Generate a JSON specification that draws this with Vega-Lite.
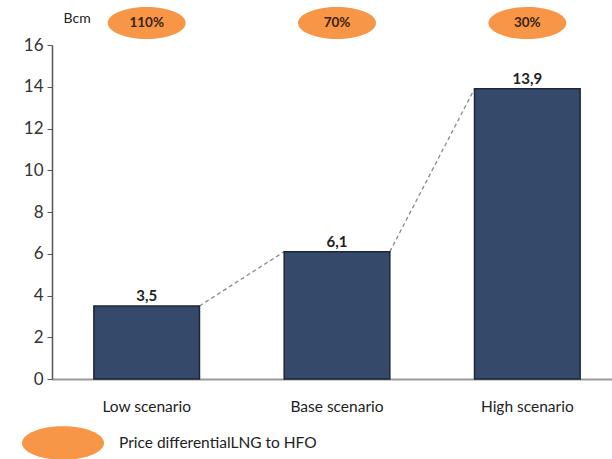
{
  "$schema": "https://vega.github.io/schema/vega-lite/v6.json",
  "autosize": {"type": "none"},
  "padding": {"left": 52, "top": 45, "right": 0, "bottom": 80},
  "width": 570,
  "height": 334,
  "config": {
    "view": {"stroke": null},
    "font": "Lato",
    "locale": {
      "number": {"decimal": ",", "thousands": ".", "grouping": [3], "currency": ["", " €"]}
    }
  },
  "data": {
    "values": [
      {"scenario": "Low scenario", "bcm": 3.5, "diff": 1.1},
      {"scenario": "Base scenario", "bcm": 6.1, "diff": 0.7},
      {"scenario": "High scenario", "bcm": 13.9, "diff": 0.3}
    ]
  },
  "encoding": {
    "x": {
      "field": "scenario",
      "type": "nominal",
      "sort": null,
      "scale": {"paddingInner": 0.445, "paddingOuter": 0.22},
      "axis": {
        "title": null,
        "labelAngle": 0,
        "labelFontSize": 15.5,
        "labelColor": "#222",
        "labelPadding": 20,
        "ticks": false,
        "domainColor": "#9a9a9a",
        "domainWidth": 2
      }
    }
  },
  "layer": [
    {
      "transform": [
        {"window": [
          {"op": "lead", "field": "scenario", "as": "next"},
          {"op": "lead", "field": "bcm", "as": "nextBcm"}
        ]},
        {"filter": "datum.next != null"}
      ],
      "mark": {"type": "rule", "strokeDash": [4, 3], "color": "#8a8a8a", "strokeWidth": 1.3},
      "encoding": {
        "x": {"field": "scenario", "type": "nominal", "sort": null, "bandPosition": 1},
        "x2": {"field": "next", "bandPosition": 0},
        "y": {"field": "bcm", "type": "quantitative"},
        "y2": {"field": "nextBcm"}
      }
    },
    {
      "mark": {"type": "bar", "color": "#354a6b", "stroke": "#1c2636", "strokeWidth": 1.5},
      "encoding": {
        "y": {
          "field": "bcm",
          "type": "quantitative",
          "scale": {"domain": [0, 16], "nice": false},
          "axis": {
            "values": [0, 2, 4, 6, 8, 10, 12, 14, 16],
            "grid": false,
            "domainColor": "#555",
            "domainWidth": 1.5,
            "tickColor": "#555",
            "tickSize": 5,
            "labelFontSize": 17,
            "labelColor": "#333",
            "labelPadding": 4,
            "title": "Bcm",
            "titleAngle": 0,
            "titleAlign": "left",
            "titleBaseline": "middle",
            "titleX": 11,
            "titleY": -27,
            "titleFontSize": 14,
            "titleFontWeight": "normal",
            "titleColor": "#222"
          }
        }
      }
    },
    {
      "mark": {"type": "text", "fontSize": 15, "fontWeight": "bold", "color": "#222", "baseline": "alphabetic", "dy": -5},
      "encoding": {
        "y": {"field": "bcm", "type": "quantitative"},
        "text": {"field": "bcm", "type": "quantitative", "format": ".1f"}
      }
    },
    {
      "mark": {
        "type": "point",
        "filled": true,
        "opacity": 1,
        "size": 6084,
        "shape": "M -1 0 A 1 0.41 0 1 0 1 0 A 1 0.41 0 1 0 -1 0 Z"
      },
      "encoding": {
        "y": {"datum": 17.05, "type": "quantitative"},
        "color": {
          "datum": "Price differentialLNG to HFO",
          "scale": {"range": ["#f79646"]},
          "legend": {
            "title": null,
            "orient": "none",
            "legendX": -30,
            "legendY": 357,
            "symbolType": "M -1 0 A 1 0.41 0 1 0 1 0 A 1 0.41 0 1 0 -1 0 Z",
            "symbolSize": 6724,
            "symbolOpacity": 1,
            "symbolStrokeWidth": 0,
            "labelFontSize": 15.5,
            "labelColor": "#222",
            "labelOffset": 15,
            "labelLimit": 0
          }
        }
      }
    },
    {
      "mark": {"type": "text", "fontSize": 13.5, "fontWeight": "bold", "color": "#3b230f", "baseline": "middle"},
      "encoding": {
        "y": {"datum": 17.05, "type": "quantitative"},
        "text": {"field": "diff", "type": "quantitative", "format": ".0%"}
      }
    }
  ]
}
